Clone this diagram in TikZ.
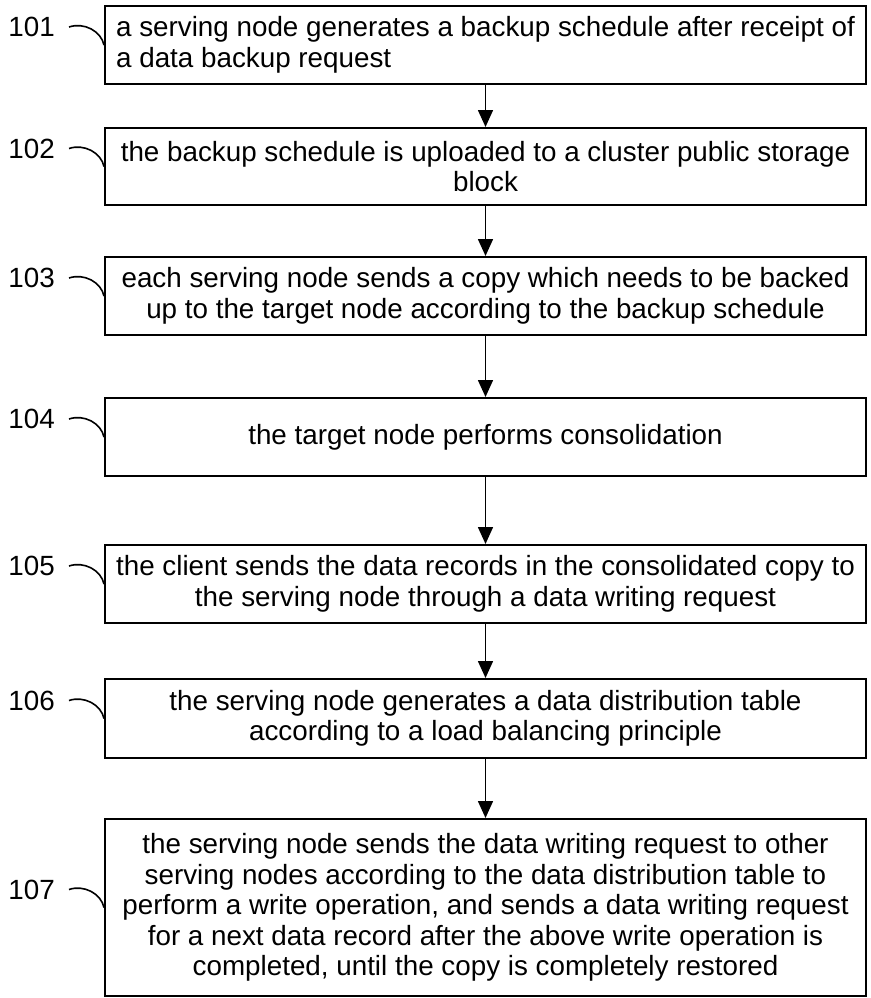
\documentclass[tikz,border=0pt]{standalone}
\usepackage{fontspec}
\setmainfont{Liberation Sans}
\usetikzlibrary{arrows.meta}
\begin{document}
\begin{tikzpicture}[x=1pt,y=-1pt,
  box/.style={draw,line width=2pt,minimum width=761pt,inner sep=0pt,align=center,
    font=\fontsize{27.8}{30.5}\selectfont},
  lbl/.style={anchor=east,inner sep=0pt,font=\fontsize{27.8}{30}\selectfont},
  lead/.style={line width=1.6pt},
  flow/.style={line width=1.6pt,-{Triangle[length=17pt,width=15pt]}}]
\useasboundingbox (0,0) rectangle (870,998);
\node[box,minimum height=78pt,align=left] (b1) at (485.5,45) {a serving node generates a backup schedule after receipt of\\a data backup request};
\node[box,minimum height=77pt] (b2) at (485.5,166.5) {the backup schedule is uploaded to a cluster public storage\\block};
\node[box,minimum height=78pt] (b3) at (485.5,296) {each serving node sends a copy which needs to be backed\\up to the target node according to the backup schedule};
\node[box,minimum height=78pt] (b4) at (485.5,437) {the target node performs consolidation};
\node[box,minimum height=78pt] (b5) at (485.5,584) {the client sends the data records in the consolidated copy to\\the serving node through a data writing request};
\node[box,minimum height=79pt] (b6) at (485.5,718.5) {the serving node generates a data distribution table\\according to a load balancing principle};
\node[box,minimum height=177pt] (b7) at (485.5,907.5) {the serving node sends the data writing request to other\\serving nodes according to the data distribution table to\\perform a write operation, and sends a data writing request\\for a next data record after the above write operation is\\completed, until the copy is completely restored};
\foreach \i/\t in {1/101,2/102,3/103,4/104,5/105,6/106,7/107}{
  \node[lbl] (l\i) at ([xshift=-49pt,yshift=18pt]b\i.west) {\t};
  \draw[lead] ([xshift=14pt]l\i.east) .. controls +(15,-5) and +(-3,-14) .. (b\i.west);
}
\foreach \a/\b in {b1/b2,b2/b3,b3/b4,b4/b5,b5/b6,b6/b7}{
  \draw[flow] (\a.south) -- (\b.north);
}
\end{tikzpicture}
\end{document}
